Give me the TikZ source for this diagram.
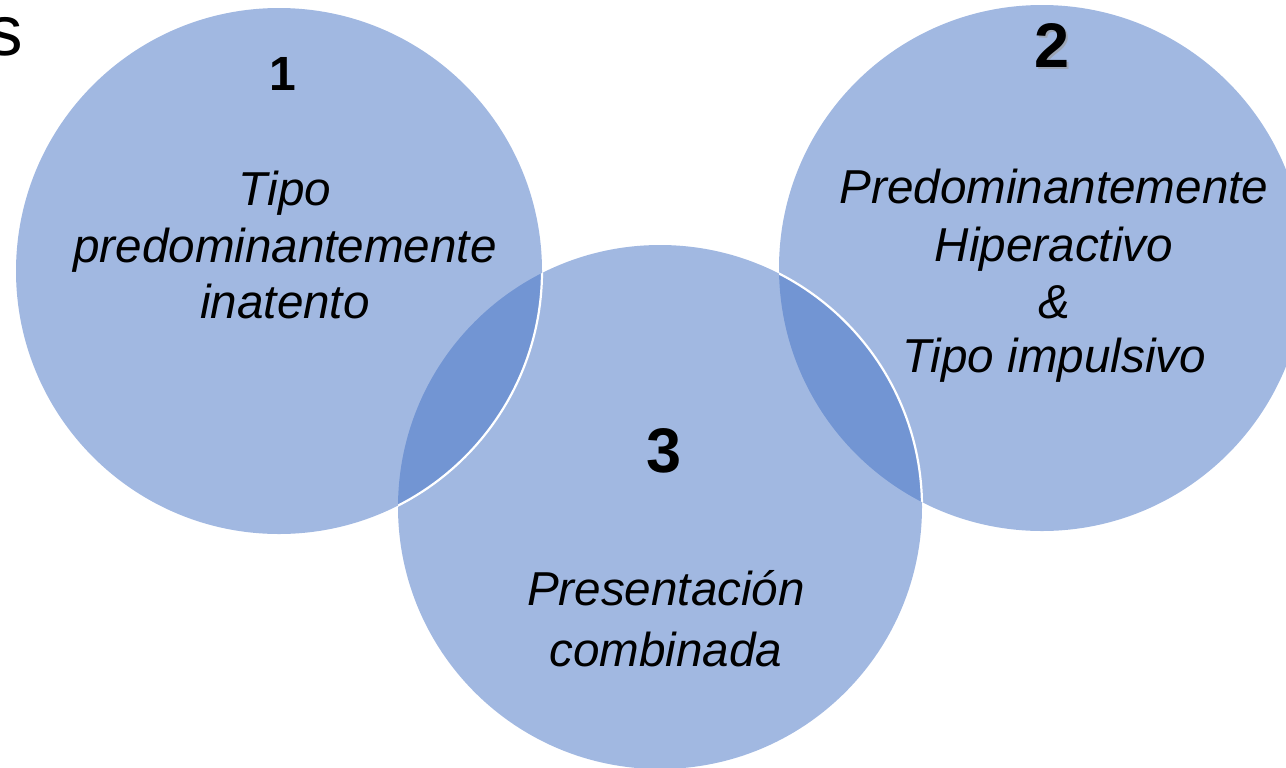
\documentclass[tikz,border=0pt]{standalone}
\usepackage{fontspec}
\setmainfont{Liberation Sans}
\begin{document}
\begin{tikzpicture}[x=0.5pt,y=-0.5pt,
  venn/.style={fill={rgb,255:red,68;green,114;blue,196},fill opacity=0.5},
  rim/.style={draw=white,line width=1.1pt},
  label/.style={anchor=base,inner sep=0pt,font=\fontsize{23.8}{28.5}\selectfont\itshape},
  numsmall/.style={anchor=base,inner sep=0pt,font=\fontsize{24}{28}\selectfont\bfseries},
  numbig/.style={anchor=base,inner sep=0pt,font=\fontsize{31.5}{36}\selectfont\bfseries}]
\useasboundingbox (0,0) rectangle (1286,767);
% circles
\fill[venn] (1042,268) circle[radius=131.5pt];
\fill[venn] (660,507) circle[radius=131pt];
\fill[venn] (279,271) circle[radius=131.5pt];
% white rims where visible
\begin{scope}
  \clip (1042,268) circle[radius=131.5pt];
  \draw[rim] (660,507) circle[radius=131pt];
\end{scope}
\begin{scope}
  \clip (660,507) circle[radius=131pt];
  \draw[rim] (279,271) circle[radius=131.5pt];
\end{scope}
% partial title letter
\node[anchor=base east,inner sep=0pt,font=\fontsize{35.5}{40}\selectfont] (ts) at (23,55) {s};
% numbers
\node[numsmall] (n1) at (283,90) {1};
\node[numbig,text=black!40,opacity=0.6] (n2s) at (1054,69) {2};
\node[numbig] (n2) at (1052,67) {2};
\node[numbig] (n3) at (664,472) {3};
% circle 1 text
\node[label] (a1) at (285,205) {Tipo};
\node[label] (a2) at (285,262) {predominantemente};
\node[label] (a3) at (285,318) {inatento};
% circle 2 text
\node[label] (b1) at (1054,203) {Predominantemente};
\node[label] (b2) at (1054,261) {Hiperactivo};
\node[label] (b3) at (1054,318) {\&};
\node[label] (b4) at (1054,372) {Tipo impulsivo};
% circle 3 text
\node[label] (c1) at (666,605) {Presentación};
\node[label] (c2) at (666,666) {combinada};
\end{tikzpicture}
\end{document}
